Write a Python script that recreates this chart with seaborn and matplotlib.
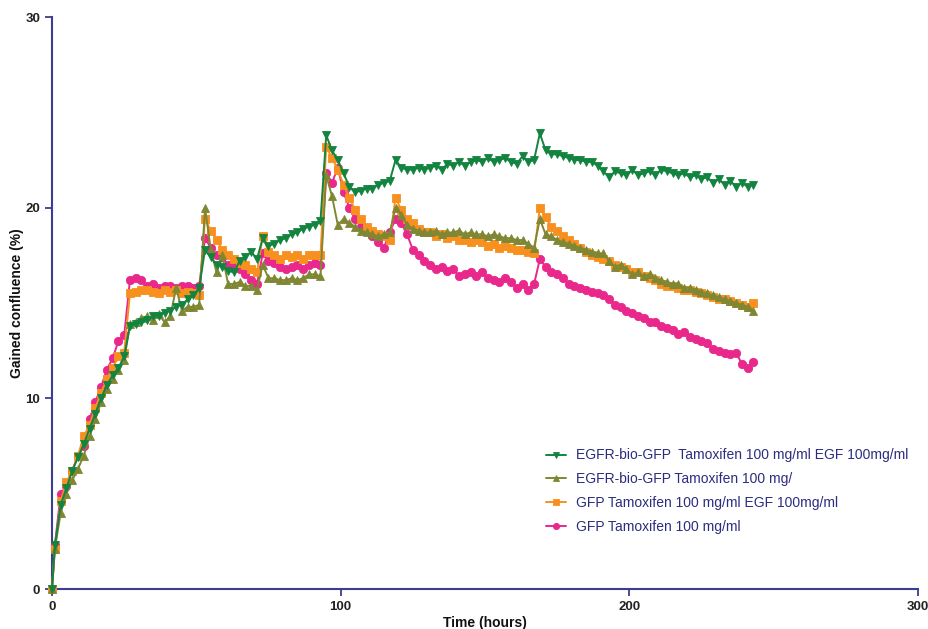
import numpy as np
import pandas as pd
import matplotlib
matplotlib.use("Agg")
import matplotlib.pyplot as plt
import seaborn as sns

time_h = [0, 1, 3, 5, 7, 9, 11, 13, 15, 17,
          19, 21, 23, 25, 27, 29, 31, 33, 35, 37,
          39, 41, 43, 45, 47, 49, 51, 53, 55, 57,
          59, 61, 63, 65, 67, 69, 71, 73, 75, 77,
          79, 81, 83, 85, 87, 89, 91, 93, 95, 97,
          99, 101, 103, 105, 107, 109, 111, 113, 115, 117,
          119, 121, 123, 125, 127, 129, 131, 133, 135, 137,
          139, 141, 143, 145, 147, 149, 151, 153, 155, 157,
          159, 161, 163, 165, 167, 169, 171, 173, 175, 177,
          179, 181, 183, 185, 187, 189, 191, 193, 195, 197,
          199, 201, 203, 205, 207, 209, 211, 213, 215, 217,
          219, 221, 223, 225, 227, 229, 231, 233, 235, 237,
          239, 241, 243]

egfr_tam_egf = [0, 2.3, 4.4, 5.3, 6.2, 6.9, 7.6, 8.4, 9.2, 10.0,
                10.7, 11.2, 11.6, 12.2, 13.8, 13.9, 14.0, 14.1, 14.3, 14.3,
                14.5, 14.6, 14.8, 14.9, 15.2, 15.4, 15.8, 17.8, 17.4, 17.0,
                16.9, 16.7, 16.6, 17.2, 17.4, 17.7, 17.3, 18.4, 18.0, 18.1,
                18.3, 18.4, 18.6, 18.7, 18.9, 19.0, 19.1, 19.3, 23.8, 23.0,
                22.5, 21.8, 21.1, 20.8, 20.9, 21.0, 21.0, 21.2, 21.3, 21.4,
                22.5, 22.1, 22.0, 22.0, 22.1, 22.0, 22.1, 22.2, 22.0, 22.3,
                22.2, 22.4, 22.2, 22.4, 22.5, 22.4, 22.6, 22.4, 22.5, 22.6,
                22.4, 22.3, 22.7, 22.4, 22.5, 23.9, 23.0, 22.8, 22.8, 22.7,
                22.6, 22.5, 22.5, 22.4, 22.4, 22.2, 21.9, 21.6, 21.9, 21.8,
                21.7, 22.0, 21.7, 21.8, 21.9, 21.7, 22.0, 21.9, 21.8, 21.7,
                21.8, 21.6, 21.7, 21.5, 21.6, 21.3, 21.5, 21.2, 21.4, 21.1,
                21.3, 21.1, 21.2]

egfr_tam = [0, 2.1, 4.0, 5.0, 5.7, 6.3, 7.0, 8.0, 8.9, 9.8,
            10.5, 11.0, 11.5, 12.0, 13.9, 14.0, 14.2, 14.3, 14.1, 14.4,
            14.0, 14.3, 15.8, 14.6, 14.8, 14.8, 14.9, 20.0, 17.8, 16.6,
            17.5, 16.0, 16.0, 16.1, 15.9, 15.9, 15.7, 17.0, 16.3, 16.3,
            16.2, 16.2, 16.3, 16.2, 16.3, 16.5, 16.5, 16.4, 21.7, 20.6,
            19.1, 19.4, 19.2, 19.0, 18.8, 18.7, 18.6, 18.5, 18.6, 18.7,
            20.0, 19.6, 19.1, 18.9, 18.8, 18.7, 18.7, 18.8, 18.6, 18.7,
            18.7, 18.8, 18.6, 18.7, 18.6, 18.6, 18.5, 18.6, 18.5, 18.4,
            18.4, 18.3, 18.3, 18.1, 17.9, 19.4, 18.6, 18.5, 18.3, 18.2,
            18.1, 18.0, 17.9, 17.8, 17.7, 17.6, 17.6, 17.2, 16.9, 17.0,
            16.8, 16.5, 16.6, 16.4, 16.5, 16.3, 16.2, 16.1, 16.0, 16.0,
            15.8, 15.8, 15.7, 15.6, 15.5, 15.4, 15.3, 15.2, 15.1, 15.0,
            14.9, 14.8, 14.6]

gfp_tam_egf = [0, 2.1, 4.6, 5.6, 6.2, 7.0, 8.0, 8.6, 9.5, 10.3,
               11.0, 11.6, 12.2, 12.4, 15.5, 15.6, 15.7, 15.7, 15.6, 15.5,
               15.7, 15.6, 15.7, 15.5, 15.6, 15.5, 15.4, 19.4, 18.8, 18.3,
               17.8, 17.5, 17.3, 17.1, 17.0, 16.8, 16.6, 18.5, 17.7, 17.5,
               17.3, 17.5, 17.4, 17.5, 17.3, 17.5, 17.5, 17.5, 23.2, 22.6,
               22.0, 21.2, 20.5, 19.9, 19.4, 19.0, 18.8, 18.6, 18.5, 18.3,
               20.5, 19.9, 19.4, 19.2, 18.9, 18.7, 18.7, 18.5, 18.6, 18.4,
               18.5, 18.3, 18.3, 18.2, 18.3, 18.2, 18.0, 18.1, 17.9, 18.0,
               17.9, 17.8, 17.8, 17.7, 17.6, 20.0, 19.5, 19.0, 18.8, 18.5,
               18.3, 18.1, 17.9, 17.7, 17.5, 17.4, 17.3, 17.2, 17.0, 16.9,
               16.8, 16.6, 16.6, 16.4, 16.3, 16.2, 16.0, 15.9, 15.9, 15.8,
               15.7, 15.7, 15.6, 15.5, 15.4, 15.3, 15.2, 15.2, 15.1, 15.0,
               14.9, 14.8, 15.0]

gfp_tam = [0, 2.3, 5.0, 5.4, 6.2, 7.0, 7.5, 8.9, 9.8, 10.6,
           11.5, 12.1, 13.0, 13.3, 16.2, 16.3, 16.2, 15.9, 16.0, 15.8,
           15.9, 15.9, 15.8, 15.9, 15.9, 15.8, 15.9, 18.4, 17.9, 17.5,
           17.4, 17.0, 16.9, 16.8, 16.5, 16.2, 16.0, 17.6, 17.2, 17.1,
           16.9, 16.8, 16.9, 17.0, 16.8, 17.0, 17.1, 17.0, 21.8, 21.3,
           22.1, 20.8, 20.0, 19.4, 19.0, 18.8, 18.5, 18.2, 17.9, 18.7,
           19.4, 19.2, 18.6, 17.8, 17.5, 17.2, 17.0, 16.8, 16.9, 16.7,
           16.8, 16.4, 16.5, 16.6, 16.4, 16.6, 16.3, 16.2, 16.1, 16.3,
           16.1, 15.8, 16.0, 15.7, 16.0, 17.3, 16.9, 16.6, 16.5, 16.3,
           16.0, 15.9, 15.8, 15.7, 15.6, 15.5, 15.4, 15.2, 14.9, 14.8,
           14.6, 14.5, 14.3, 14.2, 14.0, 14.0, 13.8, 13.7, 13.6, 13.4,
           13.5, 13.2, 13.1, 13.0, 12.9, 12.6, 12.5, 12.4, 12.3, 12.4,
           11.8, 11.6, 11.9]

labels = ["EGFR-bio-GFP  Tamoxifen 100 mg/ml EGF 100mg/ml",
          "EGFR-bio-GFP Tamoxifen 100 mg/",
          "GFP Tamoxifen 100 mg/ml EGF 100mg/ml",
          "GFP Tamoxifen 100 mg/ml"]
series = [egfr_tam_egf, egfr_tam, gfp_tam_egf, gfp_tam]
colors = ["#13843f", "#7f8733", "#f7901e", "#e8288b"]
markers = ["v", "^", "s", "o"]

x_ticks = [0, 100, 200, 300]
y_ticks = [0, 10, 20, 30]

NAVY = "#3b3f8f"

sns.set_style("ticks")
plt.rcParams["font.family"] = ["Liberation Sans", "DejaVu Sans"]

fig = plt.figure(figsize=(9.29, 6.29), dpi=100)
ax = fig.add_axes([52 / 929, 40 / 629, 866 / 929, 572 / 629])

for i in [3, 2, 1, 0]:
    df = pd.DataFrame({"t": time_h, "v": series[i]})
    sns.lineplot(data=df, x="t", y="v", ax=ax, color=colors[i],
                 marker=markers[i], markersize=6, markeredgecolor=colors[i],
                 markeredgewidth=0.6, linewidth=1.4, label=labels[i],
                 clip_on=False, zorder=3 + (3 - i))

ax.set_xlim(0, 300)
ax.set_ylim(0, 30)
ax.set_xticks(x_ticks)
ax.set_yticks(y_ticks)
for s in ["top", "right"]:
    ax.spines[s].set_visible(False)
for s in ["left", "bottom"]:
    ax.spines[s].set_color(NAVY)
    ax.spines[s].set_linewidth(1.5)
ax.tick_params(axis="both", colors=NAVY, length=5, width=1.3, direction="out",
               labelcolor="#222222", labelsize=9.5)
for lab in ax.get_xticklabels() + ax.get_yticklabels():
    lab.set_fontweight("bold")
ax.set_xlabel("Time (hours)", fontsize=10, fontweight="bold", color="#111111", labelpad=2)
ax.set_ylabel("Gained confluence (%)", fontsize=10, fontweight="bold", color="#111111", labelpad=1)

h, l = ax.get_legend_handles_labels()
order = [l.index(lb) for lb in labels]
leg = ax.legend([h[j] for j in order], [l[j] for j in order], frameon=False,
                loc="upper left", bbox_to_anchor=(534 / 929, 1 - 436 / 629),
                bbox_transform=fig.transFigure, fontsize=10, handlelength=1.4,
                handletextpad=0.7, labelspacing=0.7, labelcolor="#2b2d7e")
for lh in leg.legend_handles:
    lh.set_markersize(4.5)

fig.savefig("out.png", dpi=100)
